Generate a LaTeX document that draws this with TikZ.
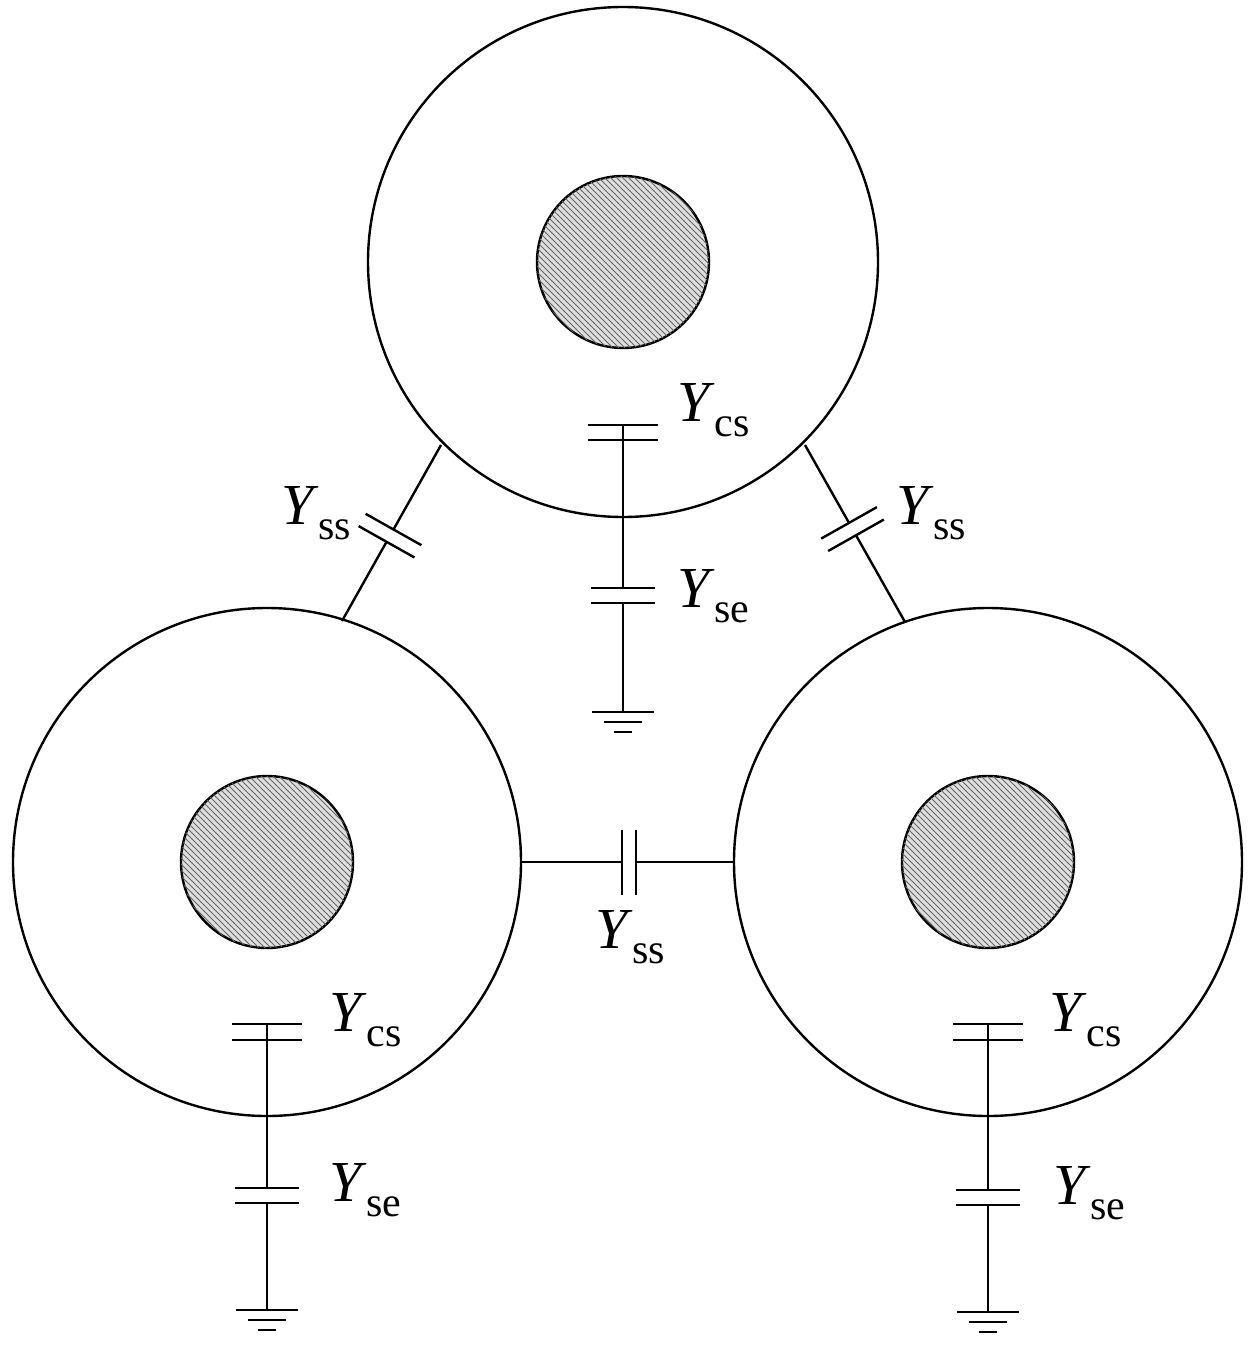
\documentclass[tikz,border=0pt]{standalone}
\usepackage{fontspec}
\setmainfont{Liberation Serif}
\usetikzlibrary{patterns,calc}
\begin{document}
\begin{tikzpicture}[x=0.5pt,y=-0.5pt,line width=1.2pt,
  outer/.style={circle,draw,minimum size=254pt,inner sep=0},
  core/.style={circle,draw,minimum size=86pt,inner sep=0,fill=gray!25,postaction={pattern=north west lines,pattern color=gray!80!black}},
  lbl/.style={anchor=west,inner sep=0,font=\fontsize{29}{29}\selectfont}]
\newcommand{\YY}[1]{\textit{Y}\raisebox{-0.25em}{\fontsize{21}{21}\selectfont #1}}
\useasboundingbox (0,0) rectangle (1253,1349);
\node[outer,minimum size=255pt] (T) at (623,262) {};
\node[outer] (L) at (267,862) {};
\node[outer] (R) at (988,862) {};
\node[core] (Tc) at (623,262) {};
\node[core] (Lc) at (267,862) {};
\node[core] (Rc) at (988,862) {};
\foreach \n/\x/\ya/\yb/\yc/\yd/\yg in {T/623/425/440/588/603/712, L/267/1024/1040/1188/1203/1310, R/988/1024/1040/1190/1205/1312}{
  \coordinate (\n a) at (\x,\ya); \coordinate (\n b) at (\x,\yb);
  \coordinate (\n c) at (\x,\yc); \coordinate (\n d) at (\x,\yd);
  \coordinate (\n g) at (\x,\yg);
  \draw (\n b) -- (\n c); \draw (\n d) -- (\n g);
  \draw ([xshift=-17.5pt]\n a) -- ([xshift=17.5pt]\n a);
  \draw ([xshift=-17.5pt]\n b) -- ([xshift=17.5pt]\n b);
  \draw ([xshift=-16pt]\n c) -- ([xshift=16pt]\n c);
  \draw ([xshift=-16pt]\n d) -- ([xshift=16pt]\n d);
  \draw ([xshift=-15.5pt]\n g) -- ([xshift=15.5pt]\n g);
  \draw ([xshift=-9.5pt,yshift=-5pt]\n g) -- ([xshift=9.5pt,yshift=-5pt]\n g);
  \draw ([xshift=-4.5pt,yshift=-10pt]\n g) -- ([xshift=4.5pt,yshift=-10pt]\n g);
}
\draw (Tc.south) -- (Ta); \draw (Lc.south) -- (La); \draw (Rc.south) -- (Ra);
\node[lbl] at (676,410) {\YY{cs}};
\node[lbl] at (676,596) {\YY{se}};
\node[lbl] at (328,1020) {\YY{cs}};
\node[lbl] at (328,1190) {\YY{se}};
\node[lbl] at (1048,1020) {\YY{cs}};
\node[lbl] at (1052,1193) {\YY{se}};
% horizontal Yss
\coordinate (h1) at (622,862); \coordinate (h2) at (636,862);
\draw (L.east) -- (h1); \draw (h2) -- (R.west);
\draw (622,830) -- (622,895); \draw (636,830) -- (636,895);
\node[lbl] at (594,937) {\YY{ss}};
% diagonal Yss
\coordinate (d1) at (441,445); \coordinate (d2) at (342,621);
\coordinate (e1) at (805,445); \coordinate (e2) at (905,622);
\path (d1) -- (d2) coordinate[pos=0.48] (dm1) coordinate[pos=0.55] (dm2);
\path (e1) -- (e2) coordinate[pos=0.44] (em1) coordinate[pos=0.51] (em2);
\draw (d1) -- (dm1); \draw (dm2) -- (d2);
\draw (e1) -- (em1); \draw (em2) -- (e2);
\foreach \p/\q in {dm1/d1, dm2/d1, em1/e1, em2/e1}{
  \draw ($(\p)!16pt!90:(\q)$) -- ($(\p)!16pt!-90:(\q)$);
}
\node[lbl] at (280,513) {\YY{ss}};
\node[lbl] at (895,513) {\YY{ss}};
\end{tikzpicture}
\end{document}
